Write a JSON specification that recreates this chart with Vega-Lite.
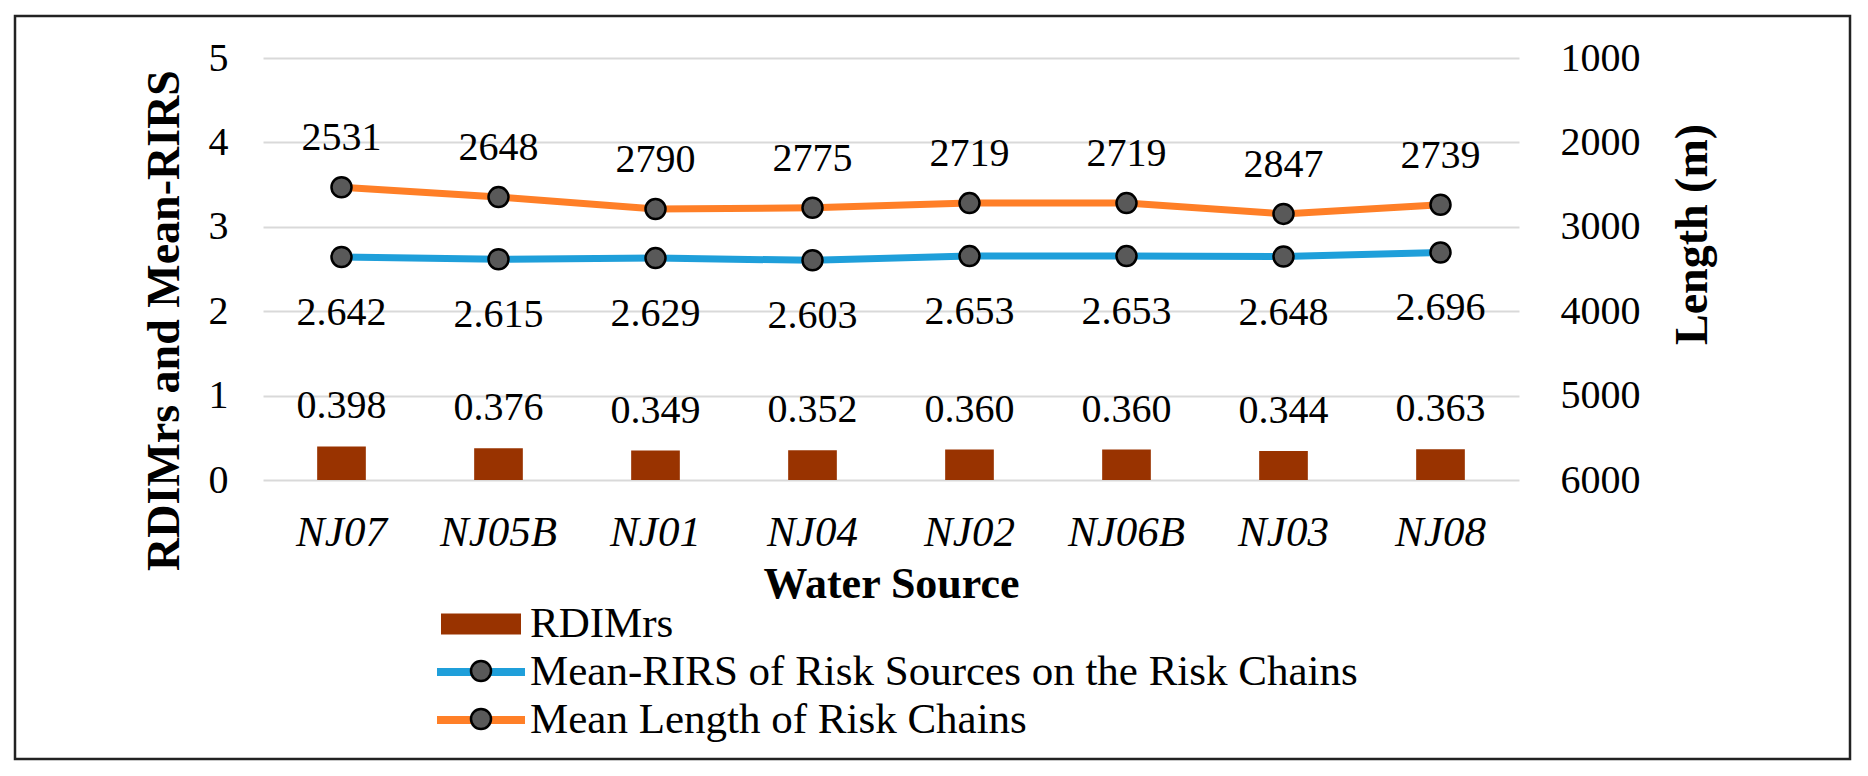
{
  "$schema": "https://vega.github.io/schema/vega-lite/v6.json",
  "width": 1835,
  "height": 743,
  "autosize": {"type": "none"},
  "padding": {"left": 15, "top": 16, "right": 18, "bottom": 17},
  "background": "white",
  "config": {
    "font": "Liberation Serif",
    "view": {"stroke": "#222222", "strokeWidth": 2.5},
    "axis": {"labelFont": "Liberation Serif", "titleFont": "Liberation Serif"},
    "legend": {"labelFont": "Liberation Serif", "titleFont": "Liberation Serif"},
    "text": {"font": "Liberation Serif"}
  },
  "data": {
    "values": [
      {"src": "NJ07", "rd": 0.398, "rirs": 2.642, "len": 2531},
      {"src": "NJ05B", "rd": 0.376, "rirs": 2.615, "len": 2648},
      {"src": "NJ01", "rd": 0.349, "rirs": 2.629, "len": 2790},
      {"src": "NJ04", "rd": 0.352, "rirs": 2.603, "len": 2775},
      {"src": "NJ02", "rd": 0.360, "rirs": 2.653, "len": 2719},
      {"src": "NJ06B", "rd": 0.360, "rirs": 2.653, "len": 2719},
      {"src": "NJ03", "rd": 0.344, "rirs": 2.648, "len": 2847},
      {"src": "NJ08", "rd": 0.363, "rirs": 2.696, "len": 2739}
    ]
  },
  "encoding": {
    "x": {
      "field": "src",
      "type": "nominal",
      "sort": null,
      "scale": {"range": [248, 1504], "paddingInner": 0, "paddingOuter": 0},
      "axis": {
        "title": "Water Source",
        "titleFont": "Liberation Serif",
        "titleFontSize": 44,
        "titleFontWeight": "bold",
        "titleY": 117,
        "titleBaseline": "alphabetic",
        "titleColor": "black",
        "labelFont": "Liberation Serif",
        "labelFontSize": 43,
        "labelFontStyle": "italic",
        "labelPadding": 65,
        "labelBaseline": "alphabetic",
        "labelAngle": 0,
        "labelColor": "black",
        "ticks": false,
        "tickSize": 0,
        "domain": false,
        "grid": false,
        "offset": -279
      }
    }
  },
  "layer": [
    {
      "layer": [
        {
          "mark": {"type": "bar", "width": {"band": 0.31}},
          "encoding": {
            "y": {
              "field": "rd",
              "type": "quantitative",
              "scale": {"domain": [0, 5], "range": [464, 42]},
              "axis": {
                "title": "RDIMrs and Mean-RIRS",
                "titleFont": "Liberation Serif",
                "titleFontSize": 46,
                "titleFontWeight": "bold",
                "titleX": -99,
                "titleY": 304,
                "titleBaseline": "middle",
                "titleAlign": "center",
                "titleAngle": 270,
                "titleColor": "black",
                "values": [0, 1, 2, 3, 4, 5],
                "format": "d",
                "labelFont": "Liberation Serif",
                "labelFontSize": 40,
                "labelPadding": 35,
                "labelColor": "black",
                "ticks": false,
                "tickSize": 0,
                "domain": false,
                "grid": true,
                "gridColor": "#d9d9d9",
                "gridWidth": 2,
                "offset": -248
              }
            },
            "color": {
              "datum": "RDIMrs",
              "scale": {
                "domain": ["RDIMrs", "Mean-RIRS of Risk Sources on the Risk Chains", "Mean Length of Risk Chains"],
                "range": ["#993300", "#1F9FDA", "#FF7F27"]
              },
              "legend": {
                "orient": "none",
                "legendX": 444.5,
                "legendY": 586.5,
                "title": null,
                "direction": "vertical",
                "symbolSize": 400,
                "symbolStrokeWidth": 0,
                "labelFont": "Liberation Serif",
                "labelFontSize": 43,
                "labelColor": "black",
                "labelLimit": 2000,
                "labelOffset": 27.5,
                "symbolOffset": 0,
                "rowPadding": 4,
                "padding": 0,
                "encode": {
                  "symbols": {
                    "update": {
                      "shape": {"signal": "datum.value === 'RDIMrs' ? 'M-4,-1.05H4V1.05H-4Z' : 'M-4.4,-0.4H4.4V0.4H-4.4Z'"},
                      "fill": {"signal": "scale('color', datum.value)"},
                      "stroke": {"value": "transparent"},
                      "opacity": {"value": 1}
                    }
                  }
                }
              }
            }
          }
        },
        {
          "mark": {"type": "text", "font": "Liberation Serif", "fontSize": 40, "baseline": "alphabetic", "dy": -28, "color": "black"},
          "encoding": {
            "y": {"field": "rd", "type": "quantitative", "title": "RDIMrs and Mean-RIRS"},
            "text": {"field": "rd", "type": "quantitative", "format": ".3f"}
          }
        },
        {
          "mark": {"type": "line", "strokeWidth": 7},
          "encoding": {
            "y": {"field": "rirs", "type": "quantitative", "title": "RDIMrs and Mean-RIRS"},
            "color": {"datum": "Mean-RIRS of Risk Sources on the Risk Chains"}
          }
        },
        {
          "mark": {"type": "point", "filled": true, "fill": "#595959", "stroke": "black", "strokeWidth": 2.5, "size": 400, "opacity": 1},
          "encoding": {
            "y": {"field": "rirs", "type": "quantitative", "title": "RDIMrs and Mean-RIRS"},
            "shape": {
              "datum": "Mean-RIRS of Risk Sources on the Risk Chains",
              "scale": {
                "domain": ["Mean-RIRS of Risk Sources on the Risk Chains", "Mean Length of Risk Chains"],
                "range": ["circle", "circle"]
              },
              "legend": {
                "orient": "none",
                "legendX": 444.5,
                "legendY": 633.5,
                "title": null,
                "direction": "vertical",
                "symbolSize": 400,
                "symbolStrokeWidth": 2.5,
                "symbolType": "circle",
                "labelFont": "Liberation Serif",
                "labelFontSize": 43,
                "labelOpacity": 0,
                "labelLimit": 2000,
                "labelOffset": 27.5,
                "symbolOffset": 0,
                "rowPadding": 4,
                "padding": 0,
                "encode": {
                  "symbols": {
                    "update": {
                      "fill": {"value": "#595959"},
                      "stroke": {"value": "black"},
                      "strokeWidth": {"value": 2.5},
                      "opacity": {"value": 1}
                    }
                  }
                }
              }
            }
          }
        },
        {
          "mark": {"type": "text", "font": "Liberation Serif", "fontSize": 40, "baseline": "alphabetic", "dy": 68, "color": "black"},
          "encoding": {
            "y": {"field": "rirs", "type": "quantitative", "title": "RDIMrs and Mean-RIRS"},
            "text": {"field": "rirs", "type": "quantitative", "format": ".3f"}
          }
        }
      ]
    },
    {
      "layer": [
        {
          "mark": {"type": "line", "strokeWidth": 7},
          "encoding": {
            "y": {
              "field": "len",
              "type": "quantitative",
              "scale": {"domain": [1000, 6000], "range": [42, 464]},
              "axis": {
                "orient": "right",
                "title": "Length (m)",
                "titleFont": "Liberation Serif",
                "titleFontSize": 46,
                "titleFontWeight": "bold",
                "titleX": 173,
                "titleY": 218,
                "titleBaseline": "middle",
                "titleAlign": "center",
                "titleAngle": 270,
                "titleColor": "black",
                "values": [1000, 2000, 3000, 4000, 5000, 6000],
                "format": "d",
                "labelFont": "Liberation Serif",
                "labelFontSize": 40,
                "labelPadding": 41,
                "labelColor": "black",
                "ticks": false,
                "tickSize": 0,
                "domain": false,
                "grid": false,
                "offset": -331
              }
            },
            "color": {"datum": "Mean Length of Risk Chains"}
          }
        },
        {
          "mark": {"type": "point", "filled": true, "fill": "#595959", "stroke": "black", "strokeWidth": 2.5, "size": 400, "opacity": 1},
          "encoding": {
            "y": {"field": "len", "type": "quantitative", "title": "Length (m)"},
            "shape": {"datum": "Mean Length of Risk Chains"}
          }
        },
        {
          "mark": {"type": "text", "font": "Liberation Serif", "fontSize": 40, "baseline": "alphabetic", "dy": -37, "color": "black"},
          "encoding": {
            "y": {"field": "len", "type": "quantitative", "title": "Length (m)"},
            "text": {"field": "len", "type": "quantitative", "format": "d"}
          }
        }
      ]
    }
  ],
  "resolve": {"scale": {"y": "independent"}}
}
